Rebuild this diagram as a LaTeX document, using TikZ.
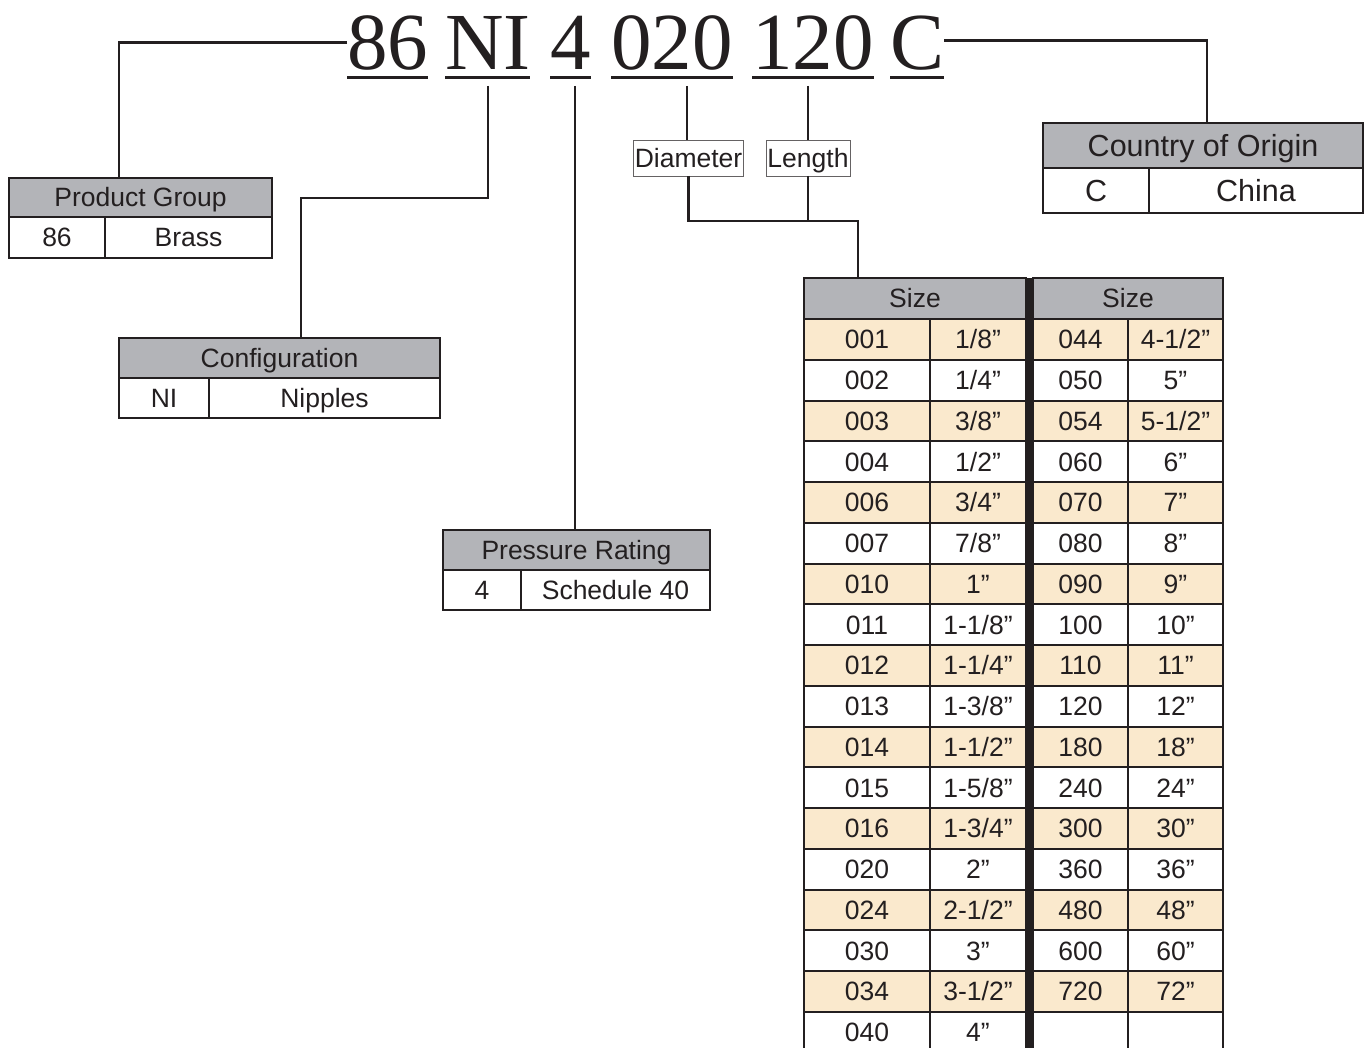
\documentclass[tikz,border=0pt]{standalone}
\usepackage{fontspec}
\setsansfont{Liberation Sans}
\newfontfamily\codefont{Liberation Serif}
\usepackage{xcolor}
\usepackage{tikz}
\definecolor{hdrgray}{RGB}{179,180,184}
\definecolor{rowtan}{RGB}{250,233,205}
\definecolor{ink}{RGB}{35,31,32}
\newcommand\boxsz{\sffamily\fontsize{26.5}{30}\selectfont}
\newcommand\origsz{\sffamily\fontsize{30.5}{34}\selectfont}

\begin{document}
\begin{tikzpicture}[x=1pt, y=-1pt,
  every node/.style={text=ink, inner sep=0pt, outer sep=0pt},
  conn/.style={draw=ink, line width=2.2pt},
  code/.style={font=\codefont\fontsize{81}{81}\selectfont, anchor=base west},
  hdr/.style={draw=ink, line width=2pt, fill=hdrgray, font=\boxsz, text height=19pt, text depth=0pt},
  cell/.style={draw=ink, line width=2pt, fill=white, font=\boxsz, text height=19pt, text depth=0pt},
  orig/.style={font=\origsz, text height=22pt, minimum height=45pt},
  tagbox/.style={draw=ink!70, line width=0.9pt, fill=white, inner sep=1.5pt, minimum height=36pt,
    font=\boxsz, text height=19pt, text depth=0pt}]
\useasboundingbox (0,0) rectangle (1365,1048);

% part number
\node[code] (t86)  at (347,70) {86};
\node[code] (tNI)  at (445,70) {NI};
\node[code] (t4)   at (550,70) {4};
\node[code] (t020) at (611,70) {020};
\node[code] (t120) at (752,70) {120};
\node[code] (tC)   at (890,70) {C};
\foreach \t in {t86,tNI,t4,t020,t120,tC}
  \draw[draw=ink, line width=3pt] ([yshift=-7.5pt]\t.base west) -- ([yshift=-7.5pt]\t.base east);

% product group
\node[hdr, minimum width=263pt, minimum height=39pt] (pgh) at (140.5,197.5) {Product Group};
\node[cell, minimum width=96pt, minimum height=41pt] (pgk) at (57,237.5) {86};
\node[cell, minimum width=167pt, minimum height=41pt] (pgv) at (188.5,237.5) {Brass};

% configuration
\node[hdr, minimum width=321pt, minimum height=40pt] (cfh) at (279.5,358) {Configuration};
\node[cell, minimum width=90pt, minimum height=40pt] (cfk) at (164,398) {NI};
\node[cell, minimum width=231pt, minimum height=40pt] (cfv) at (324.5,398) {Nipples};

% pressure rating
\node[hdr, minimum width=267pt, minimum height=40pt] (prh) at (576.5,550) {Pressure Rating};
\node[cell, minimum width=78pt, minimum height=40pt] (prk) at (482,590) {4};
\node[cell, minimum width=189pt, minimum height=40pt] (prv) at (615.5,590) {Schedule 40};

% country of origin
\node[hdr, orig, minimum width=320pt] (coh) at (1203,145.5) {Country of Origin};
\node[cell, orig, minimum width=106pt] (cok) at (1096,190.5) {C};
\node[cell, orig, minimum width=214pt] (cov) at (1256,190.5) {China};

% diameter / length tags
\node[tagbox, minimum width=109pt] (dia) at (688.5,158) {Diameter};
\node[tagbox, minimum width=84pt] (len) at (808,158) {Length};

% size table
\node[hdr, minimum width=222pt, minimum height=41pt] (szl) at (915,298.5) {Size};
\node[hdr, minimum width=190pt, minimum height=41pt] (szr) at (1128,298.5) {Size};
\foreach \a/\b/\c/\d [count=\n from 0, evaluate=\n as \y using {339.4+40.75*\n},
    evaluate=\n as \tint using {int(100*(1-mod(\n,2)))}] in
  {001/{1/8”}/044/{4-1/2”}, 002/{1/4”}/050/{5”}, 003/{3/8”}/054/{5-1/2”},
   004/{1/2”}/060/{6”}, 006/{3/4”}/070/{7”}, 007/{7/8”}/080/{8”},
   010/{1”}/090/{9”}, 011/{1-1/8”}/100/{10”}, 012/{1-1/4”}/110/{11”},
   013/{1-3/8”}/120/{12”}, 014/{1-1/2”}/180/{18”}, 015/{1-5/8”}/240/{24”},
   016/{1-3/4”}/300/{30”}, 020/{2”}/360/{36”}, 024/{2-1/2”}/480/{48”},
   030/{3”}/600/{60”}, 034/{3-1/2”}/720/{72”}, 040/{4”}/{}/{}} {
  \node[cell, fill=rowtan!\tint, minimum width=126pt, minimum height=40.75pt] (c1-\n) at (867,\y) {\a};
  \node[cell, fill=rowtan!\tint, minimum width=96pt, minimum height=40.75pt] (c2-\n) at (978,\y) {\b};
  \node[cell, fill=rowtan!\tint, minimum width=95pt, minimum height=40.75pt] (c3-\n) at (1080.5,\y) {\c};
  \node[cell, fill=rowtan!\tint, minimum width=95pt, minimum height=40.75pt] (c4-\n) at (1175.5,\y) {\d};
}
\fill[ink] (szl.north east) rectangle (c3-17.south west);

% connectors
\coordinate (dNI)  at (488,86);
\coordinate (d4)   at (575,86);
\coordinate (d020) at (687,86);
\coordinate (d120) at (808,86);
\coordinate (jNI)  at (488,198);
\coordinate (jSz)  at (858,221);
\draw[conn] ([yshift=1pt]t86.west) -| ([xshift=-21.5pt]pgh.north);
\draw[conn] ([yshift=3pt]tC.east) -| ([xshift=4pt]coh.north);
\draw[conn] (dNI) -- (jNI) -| ([xshift=21.5pt]cfh.north);
\draw[conn] (d4) -- (d4 |- prh.north);
\draw[conn] (d020) -- (d020 |- dia.north);
\draw[conn] (d120) -- (d120 |- len.north);
\draw[conn] (dia.south) |- (jSz) -- (jSz |- szl.north);
\draw[conn] (len.south) -- (len.south |- jSz);
\end{tikzpicture}
\end{document}
